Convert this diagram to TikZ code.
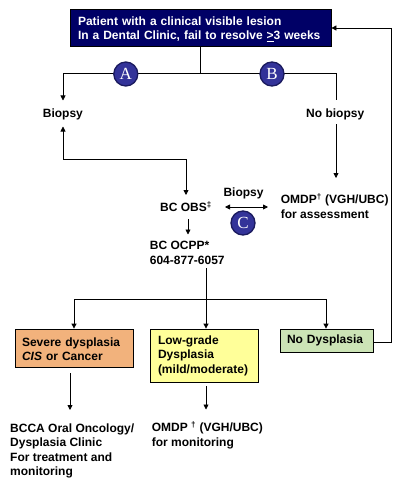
\documentclass[tikz,border=0pt]{standalone}
\usepackage{fontspec}
\setmainfont{Liberation Sans}
\newfontfamily\lettfont{Liberation Serif}
\usetikzlibrary{arrows.meta}
\definecolor{navy}{HTML}{000066}
\definecolor{cfill}{HTML}{333399}
\definecolor{cdraw}{HTML}{1A1A5E}
\definecolor{orangebox}{HTML}{F2B27C}
\definecolor{yellowbox}{HTML}{FFFF99}
\definecolor{greenbox}{HTML}{CCE4B6}
\tikzset{
  box/.style={draw=black, line width=0.8pt, rectangle, align=left, inner ysep=0pt},
  txt/.style={inner sep=0pt, anchor=base west, align=left},
  circ/.style={circle, minimum size=24pt, inner sep=0pt, fill=cfill, draw=cdraw, line width=1.3pt, text=white, font=\lettfont\fontsize{17}{17}\selectfont},
  conn/.style={line width=0.8pt, draw=black},
  arr/.style={conn, -{Triangle[length=5pt,width=5pt]}},
  darr/.style={conn, {Triangle[length=5pt,width=5pt]}-{Triangle[length=5pt,width=5pt]}}
}
\begin{document}
\begin{tikzpicture}[x=1pt,y=-1pt, font=\fontsize{12}{14.5}\selectfont\bfseries]
\useasboundingbox (0,0) rectangle (400,484);
\fill[white] (0,0) rectangle (400,484);

% boxes
\node[box, fill=navy, text=white, draw=black, minimum width=261pt, minimum height=37pt, text width=245pt, inner xsep=8pt] (top) at (200.5,27.5) {\rule{0pt}{12.5pt}Patient with a clinical visible lesion\\In a Dental Clinic, fail to resolve \underline{>}3 weeks};
\node[box, fill=orangebox, minimum width=118pt, minimum height=38pt, text width=104pt, inner xsep=7pt] (sev) at (74,348) {\rule{0pt}{11pt}Severe dysplasia\\\textit{CIS} or Cancer};
\node[box, fill=yellowbox, minimum width=108pt, minimum height=53pt, text width=92pt, inner xsep=8pt] (low) at (204,355.5) {Low-grade\\Dysplasia\\(mild/moderate)};
\node[box, fill=greenbox, minimum width=93pt, minimum height=23pt, text width=79pt, inner xsep=7pt] (nod) at (326.5,340.5) {No Dysplasia};

% texts (base = baseline of last line)
\node[txt] (biopsyL) at (42.7,117.5) {Biopsy};
\node[txt] (nobiopsy) at (306,117.5) {No biopsy};
\node[txt] (bcobs) at (160,211.7) {BC OBS\textsuperscript{‡}};
\node[txt] (biopsyM) at (223.3,196.7) {Biopsy};
\node[txt] (omdpA) at (280.7,218) {OMDP\textsuperscript{†} (VGH/UBC)\\for assessment};
\node[txt] (ocpp) at (149.7,264.3) {BC OCPP*\\604-877-6057};
\node[txt] (bcca) at (10,475.5) {BCCA Oral Oncology/\\Dysplasia Clinic\\For treatment and\\monitoring};
\node[txt] (omdpM) at (151.7,446) {OMDP \textsuperscript{†} (VGH/UBC)\\for monitoring};

% junction coordinates
\coordinate (j1) at (200,73.5);
\coordinate (jl) at (63,73.5);
\coordinate (jr) at (336,73.5);
\coordinate (bl) at (63,100.5);
\coordinate (br) at (336,100);
\coordinate (bu) at (63,126.5);
\coordinate (bd) at (63,159);
\coordinate (bc) at (186,159);
\coordinate (obsin) at (186,195);
\coordinate (nbs) at (336,124);
\coordinate (omin) at (336,178);
\coordinate (dl) at (225,207);
\coordinate (dr) at (268,207);
\coordinate (obsout) at (188,219);
\coordinate (ocin) at (188,234.5);
\coordinate (ocout) at (206,268);
\coordinate (j2) at (206,299);
\coordinate (j2l) at (74,299);
\coordinate (j2r) at (326,299);
\coordinate (fb1) at (391,342);
\coordinate (fb2) at (391,28);
\coordinate (sevout) at (70,373);
\coordinate (bccain) at (70,410);
\coordinate (lowout) at (206,386);
\coordinate (omdpin) at (206,409.5);

% connectors
\draw[conn] (top.south -| j1) -- (j1);
\draw[conn] (jl) -- (jr);
\draw[arr] (jl) -- (bl);
\draw[conn] (jr) -- (br);
\draw[arr] (bd) -- (bu);
\draw[arr] (bd) -- (bc) -- (obsin);
\draw[arr] (nbs) -- (omin);
\draw[darr] (dl) -- (dr);
\draw[arr] (obsout) -- (ocin);
\draw[conn] (ocout) -- (j2);
\draw[conn] (j2l) -- (j2r);
\draw[arr] (j2l) -- (j2l |- sev.north);
\draw[arr] (j2) -- (j2 |- low.north);
\draw[arr] (j2r) -- (j2r |- nod.north);
\draw[arr] (nod.east |- fb1) -- (fb1) -- (fb2) -- (fb2 -| top.east);
\draw[arr] (sevout) -- (bccain);
\draw[arr] (lowout) -- (omdpin);

% circles
\node[circ] (A) at (125.8,74) {A};
\node[circ] (B) at (272,74) {B};
\node[circ] (C) at (243,223) {C};
\end{tikzpicture}
\end{document}
